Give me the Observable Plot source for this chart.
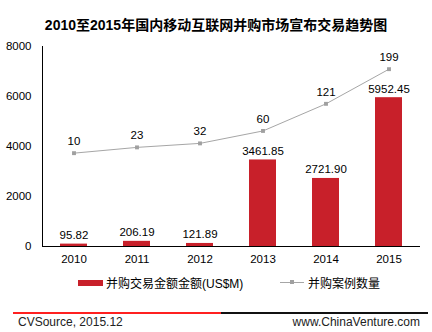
<!DOCTYPE html>
<html><head><meta charset="utf-8">
<script src="https://cdn.jsdelivr.net/npm/d3@7"></script>
<script src="https://cdn.jsdelivr.net/npm/@observablehq/plot@0.6"></script>
<style>
body{margin:0;background:#fff;font-family:"Liberation Sans",Arial,"Noto Sans CJK SC",sans-serif;}
#wrap{position:relative;width:432px;height:332px;overflow:hidden;}
#title{position:absolute;left:0;top:14px;width:432px;text-align:center;font-weight:bold;font-size:14px;font-family:"Liberation Sans","Noto Sans CJK SC",sans-serif;color:#000;}
#chart{position:absolute;left:0;top:30px;}
.leg{position:absolute;top:274px;font-size:12px;color:#000;white-space:nowrap;}
.foot{position:absolute;top:315px;font-size:12px;color:#222;}
</style></head>
<body><div id="wrap">
<div id="title">2010至2015年国内移动互联网并购市场宣布交易趋势图</div>
<div id="chart"></div>
<div style="position:absolute;left:78px;top:280px;width:25px;height:6px;background:#C8202A"></div>
<div class="leg" style="left:106px">并购交易金额金额(US$M)</div>
<div style="position:absolute;left:280px;top:282px;width:24px;height:1px;background:#A6A6A6"></div>
<div style="position:absolute;left:290px;top:280px;width:4px;height:4px;background:#A0A0A0"></div>
<div class="leg" style="left:308px">并购案例数量</div>
<div style="position:absolute;left:13px;top:312px;width:208px;height:2px;background:#FF2020"></div>
<div style="position:absolute;left:221px;top:312px;width:207px;height:2px;background:#111"></div>
<div class="foot" style="left:18px">CVSource, 2015.12</div>
<div class="foot" style="right:12px">www.ChinaVenture.com</div>
</div>
<script>
const years = ["2010","2011","2012","2013","2014","2015"];
const amounts = [95.82, 206.19, 121.89, 3461.85, 2721.90, 5952.45];
const amountLabels = ["95.82","206.19","121.89","3461.85","2721.90","5952.45"];
const counts = [10, 23, 32, 60, 121, 199];
const yTicks = [0, 2000, 4000, 6000, 8000];
const y2Domain = [-200, 250];

const toPrimary = v => (v - y2Domain[0]) / (y2Domain[1] - y2Domain[0]) * 8000;
const bars = years.map((y, i) => ({year: y, amount: amounts[i], label: amountLabels[i]}));
const pts = years.map((y, i) => ({year: y, count: counts[i], yv: toPrimary(counts[i])}));

const chart = Plot.plot({
  width: 432, height: 240,
  marginLeft: 42, marginRight: 12, marginTop: 16, marginBottom: 24,
  style: {fontFamily: "Liberation Sans, Arial, sans-serif", fontSize: "11px", color: "#000"},
  x: {domain: years, padding: 0, label: null},
  y: {domain: [0, 8000], label: null},
  marks: [
    Plot.barY(bars, {x: "year", y: "amount", fill: "#C8202A", insetLeft: 18, insetRight: 18}),
    Plot.text(bars, {x: "year", y: "amount", text: "label", lineAnchor: "bottom", dy: -5, fontSize: 11.5, fill: "#000"}),
    Plot.line(pts, {x: "year", y: "yv", stroke: "#A6A6A6", strokeWidth: 1}),
    Plot.dot(pts, {x: "year", y: "yv", symbol: "square", r: 2.2, fill: "#A0A0A0", stroke: null}),
    Plot.text(pts, {x: "year", y: "yv", text: d => String(d.count), lineAnchor: "bottom", dy: -8, fontSize: 11.5, fill: "#000"}),
    Plot.axisY({ticks: yTicks, tickFormat: d3.format("d"), tickSize: 0, tickPadding: 11, fontSize: 11.5, label: null}),
    Plot.axisX({tickSize: 0, tickPadding: 8, fontSize: 11.5, label: null}),
    Plot.frame({anchor: "left", stroke: "#000"}),
    Plot.ruleY([0], {stroke: "#000"})
  ]
});
document.getElementById("chart").append(chart);
</script>
</body></html>
